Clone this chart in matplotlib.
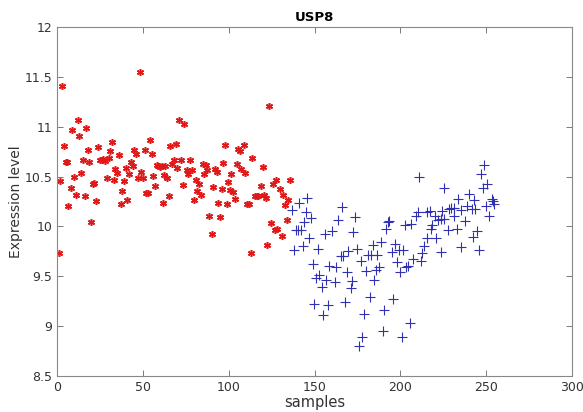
import matplotlib
matplotlib.use('Agg')
import matplotlib.pyplot as plt
import numpy as np

# group 1 (red asterisks): sample index, expression
red_x = [0.8, 1.7, 2.7, 4.1, 5, 6, 6.6, 7.8, 8.7, 9.8, 11, 12, 12.5, 13.7, 15, 16, 17.1, 17.7,
         18.8, 19.8, 20.8, 21.7, 22.7, 23.7, 25, 26, 27, 28, 29, 30, 31, 32.2, 33, 34, 35, 36,
         37, 38, 39, 40, 41, 42, 43, 44, 45, 46, 47, 48, 49, 50, 51, 52, 53, 54, 55, 56, 57,
         58, 59, 60, 61, 61.5, 62, 63, 64, 65, 66, 67, 68, 69, 70, 70.8, 72, 73.5, 74,
         75.5, 76.5, 77.5, 78.4, 79.8, 81, 81.7, 82.9, 83.6, 84.8, 85.8, 86.8, 87.5, 88.7,
         90, 90.7, 92, 93, 93.9, 94.9, 95.9, 96.5, 97.8, 98.8, 99.7, 100.6, 101.6, 102.6,
         103.7, 104.9, 105.5, 106.5, 107.4, 108.8, 109.5, 110.7, 111.9, 112.7, 113.6, 115.2,
         116.2, 117, 118.6, 119.9, 120.8, 121.9, 122.2, 123.4, 124.4, 125.8, 126.9, 127.8,
         128, 129.8, 130.8, 131.8, 132.6, 133.7, 134.7, 135.7]
red_y = [9.73, 10.46, 11.41, 10.81, 10.65, 10.65, 10.20, 10.38, 10.97, 10.50, 10.31, 11.07,
         10.91, 10.54, 10.67, 10.30, 10.99, 10.77, 10.65, 10.04, 10.43, 10.44, 10.25, 10.80,
         10.67, 10.67, 10.68, 10.66, 10.49, 10.69, 10.76, 10.85, 10.47, 10.58, 10.54, 10.72,
         10.22, 10.35, 10.46, 10.59, 10.26, 10.53, 10.65, 10.61, 10.77, 10.73, 10.49, 11.55,
         10.55, 10.49, 10.77, 10.33, 10.33, 10.87, 10.73, 10.51, 10.40, 10.62, 10.61, 10.60,
         10.61, 10.23, 10.52, 10.61, 10.49, 10.30, 10.81, 10.63, 10.67, 10.83, 10.59, 11.07,
         10.67, 10.41, 11.03,
         10.57, 10.53, 10.67, 10.57, 10.26, 10.47, 10.35, 10.42, 10.31, 10.63, 10.53, 10.62,
         10.57, 10.10, 9.92, 10.39, 10.58, 10.55, 10.23, 10.09, 10.37, 10.64, 10.82, 10.22,
         10.45, 10.36, 10.53, 10.34, 10.27, 10.63, 10.78, 10.76, 10.58, 10.82, 10.54, 10.22,
         10.22, 9.73, 10.69, 10.30, 10.30, 10.30, 10.40, 10.60, 10.31, 10.28, 9.81, 11.21,
         10.03, 10.42, 9.96, 10.47, 9.97, 10.37, 9.90, 10.31, 10.21, 10.06, 10.26, 10.47]

# group 2 (blue pluses)
blue_x = [137, 138, 139.2, 140.5, 141.9, 141.1, 143, 144, 145, 145.8, 146.9, 147.7, 148.9,
          149.9, 150.8, 152.2, 152.8, 154.2, 154.7, 156.1, 156.7, 158, 158.5, 160, 161.9,
          162.5, 163.9, 165.4, 165.8, 166.8, 167.7, 168.7, 169.7, 171, 171.6, 172.6, 173.5,
          175, 175.7, 176.9, 177.4, 178.8, 180, 181.3, 182.3, 182.7, 183.9, 184.6, 185.8,
          186.6, 187.8, 188.7, 189.7, 190.7, 191.6, 193, 193.6, 194.9, 195.9, 196.9, 197.8,
          199.4, 199.8, 200.8, 201.3, 202.7, 203.3, 204.6, 205.6, 206.5, 207.5, 209.1, 210.4,
          210.9, 211.8, 212.8, 213.9, 215.7, 215.8, 217.2, 217.8, 218.2, 220, 220.7, 222,
          223.5, 223.6, 224, 225.2, 225.5, 227.9, 228.5, 229.8, 231, 231.5, 233.1, 233.7,
          235.1, 235.4, 237.6, 239, 240.2, 241.5, 242.1, 242.9, 243.5, 244.8, 246, 246.8,
          247.9, 248.7, 249.8, 250.6, 251.8, 253.2, 254, 254.8]
blue_y = [10.16, 9.76, 9.96, 9.96, 9.96, 10.23, 9.80, 10.04, 10.14, 10.28, 9.88, 10.08, 9.62,
          9.22, 9.48, 9.77, 9.51, 9.39, 9.11, 9.92, 9.46, 9.21, 9.60, 9.95, 9.44,
          9.59, 10.06, 9.70, 10.19, 9.70, 9.24, 9.54, 9.75, 9.38, 9.45, 9.94, 10.09,
          9.77, 8.80, 9.65, 8.89, 9.12, 9.55, 9.71, 9.29, 9.71, 9.81, 9.46, 9.56,
          9.71, 9.59, 9.84, 8.95, 9.16, 9.97, 10.04, 10.05, 9.74, 9.27, 9.82, 9.64,
          9.76, 9.54, 8.89, 9.76, 10.01, 9.59, 9.60, 9.03, 10.02, 9.67, 10.10, 10.14,
          10.50, 9.65, 9.73, 9.80, 9.88, 10.14, 10.15, 9.97, 10.01, 10.10, 9.88, 10.06,
          10.07, 9.74, 10.15, 10.38, 10.07, 9.96, 10.17, 10.18, 10.18, 10.10, 9.97, 10.27,
          10.16, 9.79, 10.05, 10.20, 10.32, 10.17, 9.89, 10.26, 10.17, 9.95, 9.76, 10.53,
          10.38, 10.62, 10.20, 10.43, 10.10, 10.27, 10.25, 10.22]

fig = plt.figure(figsize=(5.83, 4.12), dpi=100)
ax = fig.add_axes([0.098, 0.087, 0.883, 0.848])

ax.plot(red_x, red_y, linestyle='none', marker=(6, 2, 0), markersize=5,
        markeredgewidth=1.1, color='#e01818')
ax.plot(blue_x, blue_y, linestyle='none', marker='+', markersize=6.5,
        markeredgewidth=0.8, color='#3030b4')

ax.set_xlim(0, 300)
ax.set_ylim(8.5, 12)
ax.set_xticks([0, 50, 100, 150, 200, 250, 300])
ax.set_yticks([8.5, 9, 9.5, 10, 10.5, 11, 11.5, 12])
ax.set_yticklabels(['8.5', '9', '9.5', '10', '10.5', '11', '11.5', '12'])
ax.tick_params(direction='in', top=True, right=True, length=4, width=0.6,
               color='#666666', labelcolor='#333333', labelsize=9)
for s in ax.spines.values():
    s.set_color('#888888')
    s.set_linewidth(0.8)

ax.set_title('USP8', fontsize=9.5, fontweight='bold', pad=4)
ax.set_xlabel('samples', fontsize=10.5, color='#333333', labelpad=1)
ax.set_ylabel('Expression level', fontsize=10, color='#333333', labelpad=1)

fig.savefig('out.png', dpi=100)
